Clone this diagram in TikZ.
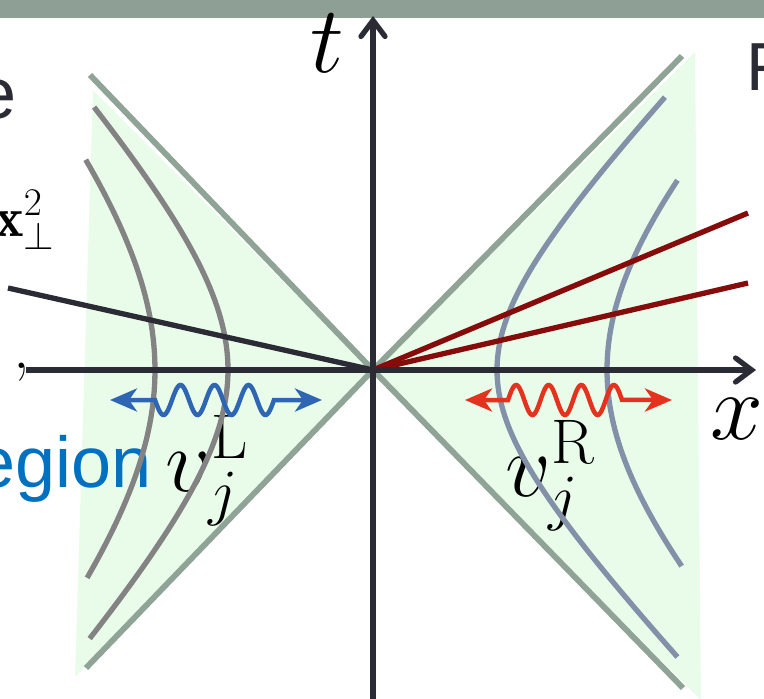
\RequirePackage{fix-cm}
\documentclass[tikz,border=0pt]{standalone}
\usepackage{fontspec}
\newfontfamily\slidesans{Liberation Sans}
\usetikzlibrary{arrows.meta}
\definecolor{barc}{HTML}{8E9F95}
\definecolor{conec}{HTML}{8FA397}
\definecolor{fillc}{HTML}{E9FCEA}
\definecolor{hypL}{HTML}{838383}
\definecolor{hypR}{HTML}{8290A8}
\definecolor{axisc}{HTML}{2B2B36}
\definecolor{darkred}{HTML}{860B0B}
\definecolor{waveB}{HTML}{2E66B4}
\definecolor{waveR}{HTML}{E5321F}
\definecolor{slideblue}{HTML}{0070C0}
\tikzset{
  cone/.style={draw=conec, line width=5.8pt},
  hypl/.style={draw=hypL, line width=5.3pt},
  hypr/.style={draw=hypR, line width=5.3pt},
  axisline/.style={draw=axisc, line width=5.3pt, -{Straight Barb[length=16pt,width=24pt,line cap=round]}},
  redray/.style={draw=darkred, line width=5.3pt},
  blackray/.style={draw=axisc, line width=5.3pt},
  wavearrow/.style={line width=4.5pt, {Stealth[length=27pt,width=23pt,inset=8pt]}-{Stealth[length=27pt,width=23pt,inset=8pt]}},
  bigmath/.style={inner sep=0pt, font=\fontsize{95}{95}\selectfont},
  vlabel/.style={inner sep=0pt, font=\fontsize{90}{90}\selectfont},
  slidetext/.style={inner sep=0pt, font=\slidesans\fontsize{72}{72}\selectfont}
}
\begin{document}
\begin{tikzpicture}[x=1pt,y=-1pt]
\useasboundingbox (0,0) rectangle (764,699);
\clip (0,0) rectangle (764,699);
% top bar
\fill[barc] (0,0) rectangle (764,18);
% green regions
\fill[fillc] (373,372) -- (93,90) -- (75,677) -- cycle;
\fill[fillc] (373,372) -- (695,52) -- (701,699) -- (700,699) -- cycle;
% slide text fragments
\node[slidetext, text=axisc, anchor=base east] (etext) at (17,118) {e};
\node[slidetext, text=slideblue, anchor=base east] (egion) at (152,487) {egion};
\node[slidetext, text=axisc, anchor=base west, font=\slidesans\fontsize{68}{68}\selectfont] (ftext) at (746,90) {F};
\node[inner sep=0pt, anchor=base west, font=\fontsize{56}{56}\selectfont] (xperp) at (-6,236) {$\mathbf{x}_\perp^2$};
\node[inner sep=0pt, anchor=base west, font=\fontsize{66}{66}\selectfont] (comma) at (13,368) {,};
% mode labels
\node[vlabel] (vL) at (207,471) {$v_j^{\mathrm{L}}$};
\node[vlabel] (vR) at (550,476) {$v_j^{\mathrm{R}}$};
% origin and end points
\coordinate (O) at (373,370);
\coordinate (cUL) at (90,75);
\coordinate (cLL) at (86,668);
\coordinate (cUR) at (682,56);
\coordinate (cLR) at (683,688);
\coordinate (rA) at (748,213);
\coordinate (rB) at (748,283);
\coordinate (bk) at (8,288);
\coordinate (xs) at (26,370);
\coordinate (xe) at (756,370);
\coordinate (ts) at (373,702);
\coordinate (te) at (373,16);
% hyperbolas
\draw[hypl] plot[domain=-1.29:1.272, samples=70, variable=\u] ({373-145*cosh(\u)}, {370-160*sinh(\u)});
\draw[hypl] plot[domain=-0.77:0.778, samples=60, variable=\u] ({373-218*cosh(\u)}, {370-245*sinh(\u)});
\draw[hypr] plot[domain=-1.547:1.502, samples=70, variable=\u] ({373+124*cosh(\u)}, {370-128*sinh(\u)});
\draw[hypr] plot[domain=-0.779:0.758, samples=60, variable=\u] ({373+234*cosh(\u)}, {370-228*sinh(\u)});
% light cone
\draw[cone] (cUL) -- (O) -- (cLR);
\draw[cone] (cLL) -- (O) -- (cUR);
% rays
\draw[redray] (O) -- (rA);
\draw[redray] (O) -- (rB);
\draw[blackray] (bk) -- (O);
% axes
\draw[axisline] (xs) -- (xe);
\draw[axisline] (ts) -- (te);
% wavy arrows
\coordinate (wLa) at (110,400);
\coordinate (wLb) at (322,400);
\coordinate (wRa) at (465,400);
\coordinate (wRb) at (672,400);
\draw[wavearrow, draw=waveB, fill=none, color=waveB] (wLa) -- (155,400) -- plot[domain=0:3.5, samples=90, variable=\w] ({155+34*\w}, {400+15*sin(360*\w)}) -- (wLb);
\draw[wavearrow, draw=waveR, fill=none, color=waveR] (wRa) -- (508,400) -- plot[domain=0:3.5, samples=90, variable=\w] ({508+32.57*\w}, {400-15*sin(360*\w)}) -- (wRb);
% axis labels
\node[bigmath] (tlab) at (327,43) {$t$};
\node[bigmath] (xlab) at (737,419) {$x$};
\end{tikzpicture}
\end{document}
